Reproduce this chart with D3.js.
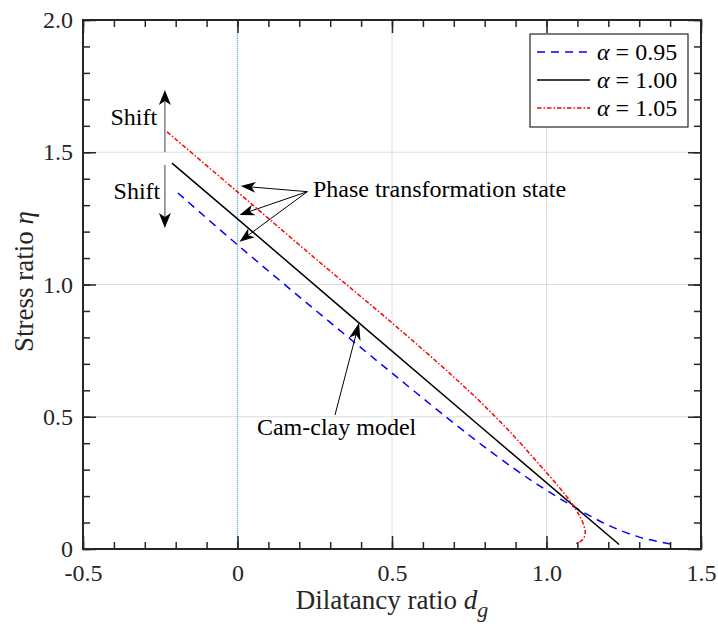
<!DOCTYPE html>
<html>
<head>
<meta charset="utf-8">
<script src="https://cdn.jsdelivr.net/npm/d3@7"></script>
<style>
  body { margin: 0; background: #fff; }
  svg { font-family: "Liberation Serif", "Times New Roman", serif; }
</style>
</head>
<body>
<script>
const margin = { top: 20, right: 17, bottom: 78, left: 83 },
    W = 718, H = 627,
    width = W - margin.left - margin.right,
    height = H - margin.top - margin.bottom;

// series: [dilatancy ratio dg, stress ratio eta]
const alphas = ['0.95', '1.00', '1.05'];
const blue095 = [[-0.193, 1.346], [0, 1.15], [0.25, 0.905], [0.5, 0.665], [0.75, 0.43], [0.9, 0.30],
    [1.0, 0.222], [1.1, 0.152], [1.2, 0.09], [1.3, 0.045], [1.405, 0.018]];
const black100 = [[-0.212, 1.459], [0, 1.248], [0.393, 0.855], [0.785, 0.464], [1.235, 0.017]];
const red105 = [[-0.228, 1.577], [0, 1.35], [0.25, 1.10], [0.5, 0.855], [0.7, 0.65], [0.8, 0.54], [0.9, 0.42],
    [0.98, 0.315], [1.04, 0.235], [1.08, 0.175], [1.105, 0.13], [1.122, 0.085], [1.125, 0.055],
    [1.115, 0.033], [1.092, 0.018]];

const xTicks = [-0.5, 0, 0.5, 1.0, 1.5];
const yTicks = [0, 0.5, 1.0, 1.5, 2.0];
const xMinor = d3.range(-5, 16).map(d => d / 10);
const yMinor = d3.range(0, 21).map(d => d / 10);

// annotations (data coordinates)
const shiftArrows = [
    { x: -0.235, y0: 1.5, y1: 1.735, tx: -0.26, ty: 1.603 },
    { x: -0.235, y0: 1.452, y1: 1.214, tx: -0.25, ty: 1.323 }
];
const phaseTail = [0.226, 1.351];
const phaseTips = [[0.0104, 1.372], [0.0065, 1.263], [0.0065, 1.162]];
const phaseText = [0.244, 1.331];
const camTail = [0.3155, 0.5066], camTip = [0.3932, 0.8544], camText = [0.063, 0.431];

const fmt = d => d === 0 ? '0' : d3.format('.1f')(d).replace('\u2212', '-');

const xScale = d3.scaleLinear().domain([-0.5, 1.5]).range([0, width]);
const yScale = d3.scaleLinear().domain([0, 2.0]).range([height, 0]);

const svg = d3.select('body').append('svg')
    .attr('width', W).attr('height', H)
    .append('g')
    .attr('transform', 'translate(' + margin.left + ',' + margin.top + ')');

// gridlines
svg.append('g').selectAll('line')
    .data(xTicks.filter(d => d > -0.5 && d < 1.5))
    .enter().append('line')
    .attr('x1', d => xScale(d)).attr('x2', d => xScale(d))
    .attr('y1', 0).attr('y2', height)
    .style('stroke', '#dedede').style('stroke-width', 1);
svg.append('g').selectAll('line')
    .data(yTicks.filter(d => d > 0 && d < 2))
    .enter().append('line')
    .attr('y1', d => yScale(d)).attr('y2', d => yScale(d))
    .attr('x1', 0).attr('x2', width)
    .style('stroke', '#dedede').style('stroke-width', 1);

// dg = 0 reference line
svg.append('line')
    .attr('x1', xScale(0)).attr('x2', xScale(0))
    .attr('y1', yScale(0)).attr('y2', yScale(2))
    .style('stroke', '#4dbeee').style('stroke-width', 1.5)
    .style('stroke-dasharray', '1,1').style('opacity', 0.8);

// curves
const line = d3.line().x(d => xScale(d[0])).y(d => yScale(d[1]));
const series = [
    { label: alphas[0], values: blue095, color: '#0000ff', dash: '8,6', curve: d3.curveCatmullRom },
    { label: alphas[1], values: black100, color: '#000000', dash: null, curve: d3.curveLinear },
    { label: alphas[2], values: red105, color: '#ff0000', dash: '4.5,2,1.5,2', curve: d3.curveCatmullRom }
];
svg.selectAll('.curve')
    .data(series)
    .enter().append('path')
    .attr('class', 'curve')
    .attr('d', d => line.curve(d.curve)(d.values))
    .style('fill', 'none')
    .style('stroke', d => d.color)
    .style('stroke-width', 1.5)
    .style('stroke-dasharray', d => d.dash);

// arrows
function arrow(x0, y0, x1, y1, opt) {
    const L = opt.len || 15, hw = (opt.w || 11) / 2;
    const dx = x1 - x0, dy = y1 - y0, n = Math.hypot(dx, dy);
    const ux = dx / n, uy = dy / n, nx = -uy, ny = ux;
    const bx = x1 - L * ux, by = y1 - L * uy;
    const kx = x1 - 0.72 * L * ux, ky = y1 - 0.72 * L * uy;
    svg.append('line')
        .attr('x1', x0).attr('y1', y0).attr('x2', kx).attr('y2', ky)
        .style('stroke', opt.color || '#000').style('stroke-width', opt.sw || 1);
    svg.append('path')
        .attr('d', 'M' + x1 + ',' + y1 + 'L' + (bx + hw * nx) + ',' + (by + hw * ny) +
            'L' + kx + ',' + ky + 'L' + (bx - hw * nx) + ',' + (by - hw * ny) + 'Z')
        .style('fill', '#000');
}

shiftArrows.forEach(a => {
    arrow(xScale(a.x), yScale(a.y0), xScale(a.x), yScale(a.y1), { color: '#808080', sw: 1.5, len: 15, w: 12 });
    svg.append('text')
        .attr('x', xScale(a.tx)).attr('y', yScale(a.ty))
        .style('text-anchor', 'end').style('font-size', '24px')
        .text('Shift');
});

phaseTips.forEach(t => {
    arrow(xScale(phaseTail[0]), yScale(phaseTail[1]), xScale(t[0]), yScale(t[1]), { len: 15, w: 11 });
});
svg.append('text')
    .attr('x', xScale(phaseText[0])).attr('y', yScale(phaseText[1]))
    .style('font-size', '24px')
    .text('Phase transformation state');

arrow(xScale(camTail[0]), yScale(camTail[1]), xScale(camTip[0]), yScale(camTip[1]), { len: 17, w: 12 });
svg.append('text')
    .attr('x', xScale(camText[0])).attr('y', yScale(camText[1]))
    .style('font-size', '24px')
    .text('Cam-clay model');

// axes (ticks pointing inward on all four sides)
function styleAxis(g) {
    g.select('.domain').remove();
    g.selectAll('line').style('stroke', '#262626').style('stroke-width', 1.5);
    g.selectAll('text').style('fill', '#262626').style('font-size', '24px')
        .style('font-family', '"Liberation Serif", "Times New Roman", serif');
}
svg.append('g').attr('transform', 'translate(0,' + height + ')')
    .call(d3.axisBottom(xScale).tickValues(xMinor).tickSize(-7).tickFormat('')).call(styleAxis);
svg.append('g').attr('transform', 'translate(0,' + height + ')')
    .call(d3.axisBottom(xScale).tickValues(xTicks).tickSize(-13).tickPadding(15).tickFormat(fmt)).call(styleAxis);
svg.append('g')
    .call(d3.axisTop(xScale).tickValues(xMinor).tickSize(-7).tickFormat('')).call(styleAxis);
svg.append('g')
    .call(d3.axisTop(xScale).tickValues(xTicks).tickSize(-13).tickFormat('')).call(styleAxis);
svg.append('g')
    .call(d3.axisLeft(yScale).tickValues(yMinor).tickSize(-7).tickFormat('')).call(styleAxis);
svg.append('g')
    .call(d3.axisLeft(yScale).tickValues(yTicks).tickSize(-13).tickPadding(10).tickFormat(fmt)).call(styleAxis);
svg.append('g').attr('transform', 'translate(' + width + ',0)')
    .call(d3.axisRight(yScale).tickValues(yMinor).tickSize(-7).tickFormat('')).call(styleAxis);
svg.append('g').attr('transform', 'translate(' + width + ',0)')
    .call(d3.axisRight(yScale).tickValues(yTicks).tickSize(-13).tickFormat('')).call(styleAxis);

svg.append('rect')
    .attr('width', width).attr('height', height)
    .style('fill', 'none').style('stroke', '#262626').style('stroke-width', 2);

// axis labels
const xl = svg.append('text')
    .attr('x', width / 2).attr('y', height + 60)
    .style('text-anchor', 'middle').style('font-size', '27px').style('fill', '#262626');
xl.append('tspan').text('Dilatancy ratio ');
xl.append('tspan').style('font-style', 'italic').text('d');
xl.append('tspan').style('font-style', 'italic').style('font-size', '22px').attr('dy', 8).text('g');

const yl = svg.append('text')
    .attr('transform', 'translate(' + (33 - margin.left) + ',' + (height / 2 - 3) + ') rotate(-90)')
    .style('text-anchor', 'middle').style('font-size', '27px').style('fill', '#262626');
yl.append('tspan').text('Stress ratio ');
yl.append('tspan').style('font-style', 'italic').text('η');

// legend
const legend = svg.append('g')
    .attr('class', 'legend')
    .attr('transform', 'translate(' + (width - 171) + ',14)');
legend.append('rect')
    .attr('width', 158).attr('height', 93)
    .style('fill', '#fff').style('stroke', '#262626').style('stroke-width', 1.2);
legend.selectAll('.key')
    .data(series)
    .enter().append('line')
    .attr('class', 'key')
    .attr('x1', 7).attr('x2', 60)
    .attr('y1', (d, i) => 18 + i * 28).attr('y2', (d, i) => 18 + i * 28)
    .style('stroke', d => d.color).style('stroke-width', 1.5)
    .style('stroke-dasharray', d => d.dash);
const lt = legend.selectAll('.ltext')
    .data(series)
    .enter().append('text')
    .attr('class', 'ltext')
    .attr('x', 67).attr('y', (d, i) => 18 + i * 28)
    .attr('dy', '0.32em')
    .style('font-size', '24px');
lt.append('tspan').style('font-style', 'italic').text('α');
lt.append('tspan').text(d => ' = ' + d.label);
</script>
</body>
</html>
